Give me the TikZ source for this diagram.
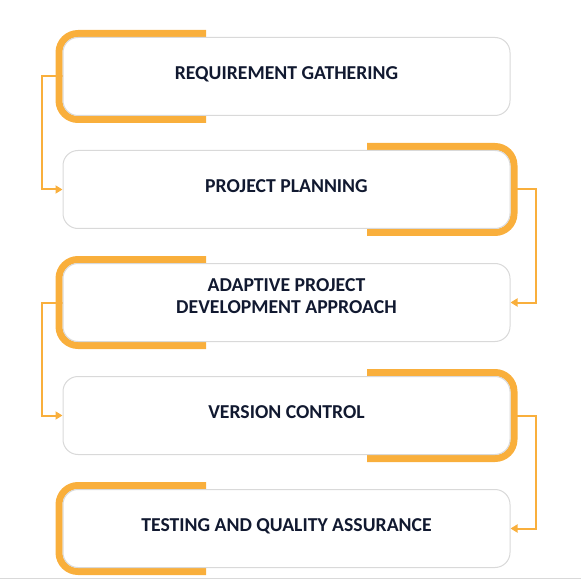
\documentclass[tikz,border=0pt]{standalone}
\usepackage{fontspec}
\setmainfont{Carlito}
\usetikzlibrary{arrows.meta}
\definecolor{accent}{HTML}{F9AF3C}
\definecolor{frame}{HTML}{D9D9D9}
\definecolor{ink}{HTML}{111930}
\tikzset{
  stepbox/.style={draw=frame, line width=1pt, fill=white, rounded corners=15pt,
    minimum width=447pt, minimum height=78pt, inner sep=0pt},
  steplabel/.style={text=ink, align=center, inner sep=0pt,
    font=\fontsize{19.7}{22.5}\selectfont\bfseries},
  oneline/.style={steplabel, text height=12.6pt, text depth=0pt},
  bracket/.style={draw=accent, line width=7pt, rounded corners=19pt, line cap=butt},
  conn/.style={draw=accent, line width=2pt, -{Triangle[length=7pt,width=8pt]}}
}
\begin{document}
\begin{tikzpicture}[x=1pt,y=-1pt]
\useasboundingbox (0,0) rectangle (581,580);
% step positions
\coordinate (p1) at (286.5,76.5);
\coordinate (p2) at (286.5,189.5);
\coordinate (p3) at (286.5,302.5);
\coordinate (p4) at (286.5,415.5);
\coordinate (p5) at (286.5,528.5);
% invisible anchors to route the connectors
\foreach \n in {1,...,5}{
  \node[stepbox, draw=none, fill=none] (b\n) at (p\n) {};
}
% connectors
\draw[conn] (b1.west) -- ++(-21,0) |- (b2.west);
\draw[conn] (b2.east) -- ++(25.5,0) |- (b3.east);
\draw[conn] (b3.west) -- ++(-21,0) |- (b4.west);
\draw[conn] (b4.east) -- ++(25.5,0) |- (b5.east);
% orange brackets
\foreach \n in {1,3,5}{
  \draw[bracket] ([xshift=-80.5pt,yshift=3.5pt]b\n.north) -| ([xshift=-3.5pt]b\n.west)
                 |- ([xshift=-80.5pt,yshift=-3.5pt]b\n.south);
}
\foreach \n in {2,4}{
  \draw[bracket] ([xshift=80.5pt,yshift=3.5pt]b\n.north) -| ([xshift=3.5pt]b\n.east)
                 |- ([xshift=80.5pt,yshift=-3.5pt]b\n.south);
}
% step boxes
\foreach \n in {1,...,5}{
  \node[stepbox] (s\n) at (p\n) {};
}
% labels
\node[oneline] (t1) at ([yshift=3pt]s1.center) {REQUIREMENT GATHERING};
\node[oneline] (t2) at ([yshift=3pt]s2.center) {PROJECT PLANNING};
\node[steplabel] (t3) at ([yshift=6.5pt]s3.center) {ADAPTIVE PROJECT\\DEVELOPMENT APPROACH};
\node[oneline] (t4) at ([yshift=3pt]s4.center) {VERSION CONTROL};
\node[oneline] (t5) at ([yshift=3pt]s5.center) {TESTING AND QUALITY ASSURANCE};
% bottom rule
\draw[frame, line width=1.5pt] (0,578.5) -- (581,578.5);
\end{tikzpicture}
\end{document}
